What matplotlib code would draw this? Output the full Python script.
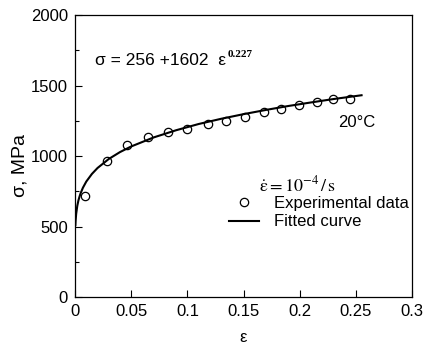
import matplotlib
matplotlib.use('Agg')
import matplotlib.pyplot as plt
from matplotlib.ticker import MultipleLocator

plt.rcParams['font.family'] = ['Liberation Sans', 'DejaVu Sans']
plt.rcParams['mathtext.fontset'] = 'stix'

# experimental points
strain_exp = [0.009, 0.028, 0.046, 0.065, 0.083, 0.100, 0.118, 0.134, 0.151,
              0.168, 0.183, 0.199, 0.215, 0.230, 0.245]
stress_exp = [718, 967, 1078, 1133, 1170, 1191, 1225, 1250, 1279,
              1310, 1335, 1360, 1385, 1402, 1404]

# fitted curve
strain_fit = [0.0003, 0.0005, 0.001, 0.002, 0.003, 0.004, 0.005, 0.007, 0.01,
              0.015, 0.02, 0.03, 0.04, 0.05, 0.07, 0.09, 0.11, 0.13, 0.15,
              0.17, 0.19, 0.21, 0.23, 0.255]
stress_fit = [510, 541, 590, 647, 685, 713, 737, 775, 819,
              873, 915, 979, 1028, 1068, 1132, 1183, 1227, 1264, 1297,
              1327, 1355, 1380, 1404, 1431]

fig = plt.figure(figsize=(4.24, 3.45), dpi=100)
ax = fig.add_axes([0.177, 0.139, 0.795, 0.8175])

ax.plot(strain_exp, stress_exp, 'o', mfc='none', mec='black', ms=6, mew=0.9,
        label='Experimental data', zorder=3)
ax.plot(strain_fit, stress_fit, '-', color='black', lw=1.5, label='Fitted curve')

ax.set_xlim(0, 0.3)
ax.set_ylim(0, 2000)
ax.yaxis.set_major_locator(MultipleLocator(500))
ax.yaxis.set_minor_locator(MultipleLocator(250))
ax.set_xticks([0, 0.05, 0.1, 0.15, 0.2, 0.25, 0.3])
ax.set_xticklabels(['0', '0.05', '0.1', '0.15', '0.2', '0.25', '0.3'])
ax.tick_params(direction='in', labelsize=12, length=5, width=0.8, pad=5)
ax.tick_params(which='minor', direction='in', length=3, width=0.8)
for s in ax.spines.values():
    s.set_linewidth(0.9)

ax.set_xlabel('ε', fontsize=12, labelpad=8)
ax.set_ylabel('σ, MPa', fontsize=14)
ax.yaxis.set_label_coords(-0.139, 0.465)

eq = ax.text(0.059, 0.837, 'σ = 256 +1602  ε', transform=ax.transAxes,
             fontsize=12.5, va='center', ha='left')
ax.annotate('0.227', xy=(1, 1), xycoords=eq, xytext=(1, -1),
            textcoords='offset points', fontsize=8, fontweight='bold',
            family='Liberation Serif', va='center', ha='left')

ax.text(0.78, 0.62, '20°C', transform=ax.transAxes, fontsize=12,
        va='center', ha='left')
ax.text(0.546, 0.397, r'$\dot{\mathrm{\varepsilon}}=10^{-4}\,/\,\mathrm{s}$',
        transform=ax.transAxes, fontsize=13, va='center', ha='left')

ax.legend(loc='upper left', bbox_to_anchor=(0.457, 0.358), frameon=False,
          fontsize=12, borderpad=0, borderaxespad=0, handlelength=1.8,
          handletextpad=0.9, labelspacing=0.2)

fig.savefig('out.png', dpi=100)
